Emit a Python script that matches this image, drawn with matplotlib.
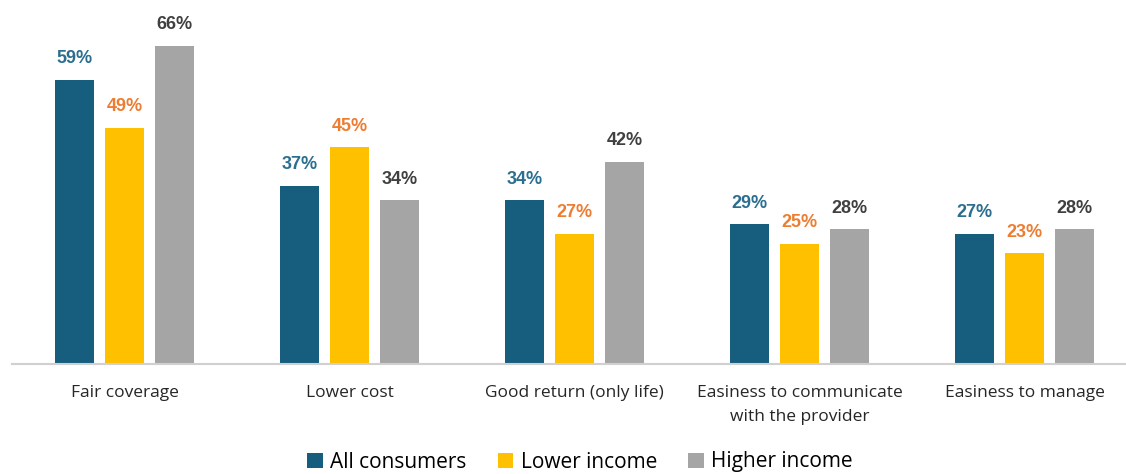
import matplotlib
matplotlib.use("Agg")
import matplotlib.pyplot as plt
import numpy as np

categories = ["Fair coverage", "Lower cost", "Good return (only life)",
              "Easiness to communicate\nwith the provider", "Easiness to manage"]
series_names = ["All consumers", "Lower income", "Higher income"]
all_consumers = [59, 37, 34, 29, 27]
lower_income = [49, 45, 27, 25, 23]
higher_income = [66, 34, 42, 28, 28]

bar_colors = ["#175E7E", "#FFC000", "#A5A5A5"]
label_colors = ["#2B6E8F", "#ED7D31", "#404040"]

fig = plt.figure(figsize=(11.26, 4.74), dpi=100)
ax = fig.add_axes([12 / 1126, 0.232, 1 - 12 / 1126, 0.712])

x = np.arange(len(categories))
width = 39 / 225
pitch = 50 / 225
for i, (vals, name) in enumerate(zip([all_consumers, lower_income, higher_income], series_names)):
    pos = x + (i - 1) * pitch
    ax.bar(pos, vals, width=width, color=bar_colors[i], label=name)
    for px, v in zip(pos, vals):
        ax.text(px, v + 2.6, f"{v}%", ha="center", va="bottom",
                fontsize=13, fontweight="bold", color=label_colors[i],
                family="Liberation Sans")

ax.set_xlim(-0.5, (1126 - 124.5) / 225)
ax.set_ylim(0, 70)
ax.set_yticks([])
ax.set_xticks(x)
ax.set_xticklabels(categories, fontsize=12.5, color="#262626", family="Open Sans",
                   linespacing=1.65)
ax.tick_params(axis="x", length=0, pad=15)
for s in ["top", "right", "left"]:
    ax.spines[s].set_visible(False)
ax.spines["bottom"].set_color("#D0D0D0")
ax.spines["bottom"].set_linewidth(1.5)

fig.legend(loc="center", bbox_to_anchor=(580 / 1126, 1 - 462 / 474), ncol=3,
           frameon=False, handlelength=0.75, handleheight=0.75,
           handletextpad=0.35, columnspacing=1.5,
           prop={"family": "Open Sans", "size": 15})

fig.savefig("out.png", dpi=100)
